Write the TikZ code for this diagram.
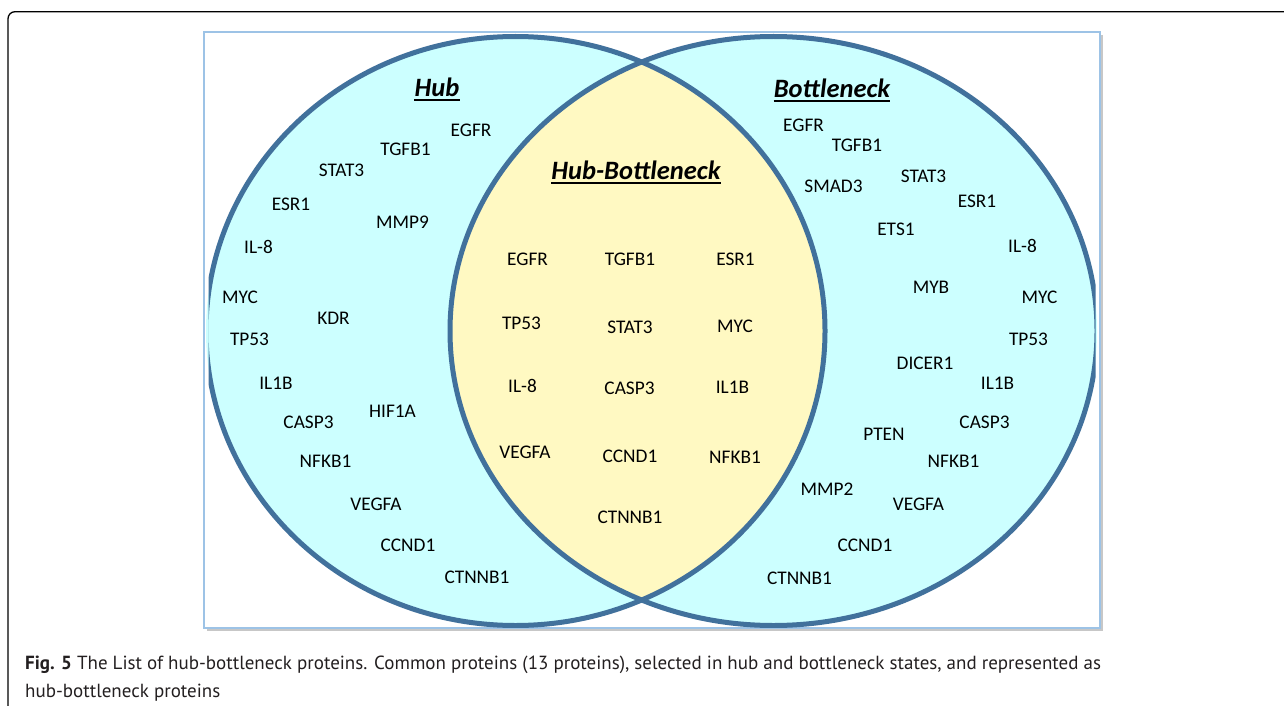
\documentclass[tikz,border=0pt]{standalone}
\usepackage{fontspec}
\setmainfont{Carlito}
\newfontfamily\capfont{PT Sans}
\definecolor{vline}{HTML}{41719C}
\definecolor{vcyan}{HTML}{CCFFFF}
\definecolor{vyellow}{HTML}{FFF9C2}
\definecolor{pblue}{HTML}{9DC3E6}
\definecolor{captxt}{HTML}{231F20}
\begin{document}
\begin{tikzpicture}[x=1pt,y=-1pt,
  lbl/.style={inner sep=0pt, font=\fontsize{19.3}{22}\selectfont, text=black},
  ttl/.style={inner sep=0pt, font=\fontsize{26.5}{30}\selectfont\bfseries\itshape, text=black},
  ulline/.style={line width=1.6pt, black},
  vset/.style={line width=5pt, draw=vline}]
\useasboundingbox (0,0) rectangle (1284,706);
% outer frame
\draw[line width=1.3pt, rounded corners=7pt] (8,706) -- (8,11.7) -- (1284,11.7);
% panel with shadow
\fill[black!22] (207,35) rectangle (1103,631);
\draw[draw=pblue, line width=2pt, fill=white] (204,32) rectangle (1100,628);
% sets
\fill[vcyan] (515.5,331) ellipse [x radius=309.5, y radius=294.5];
\fill[vcyan] (773.5,331) ellipse [x radius=323.5, y radius=294.5];
\begin{scope}
  \clip (515.5,331) ellipse [x radius=309.5, y radius=294.5];
  \fill[vyellow] (773.5,331) ellipse [x radius=323.5, y radius=294.5];
\end{scope}
\begin{scope}
  \clip (208.5,33) rectangle (1095.5,627);
  \draw[vset] (515.5,331) ellipse [x radius=309.5, y radius=294.5];
  \draw[vset] (773.5,331) ellipse [x radius=323.5, y radius=294.5];
\end{scope}
% titles
\node[ttl] (thub) at (437,87) {Hub};
\draw[ulline] ([yshift=-4pt]thub.base west) -- ([yshift=-4pt]thub.base east);
\node[ttl] (thb) at (636,170) {Hub-Bottleneck};
\draw[ulline] ([yshift=-4pt]thb.base west) -- ([yshift=-4pt]thb.base east);
\node[ttl] (tbn) at (832,88) {Bottleneck};
\draw[ulline] ([yshift=-4pt]tbn.base west) -- ([yshift=-4pt]tbn.base east);
% hub only
\node[lbl] (h1) at (471,130) {EGFR};
\node[lbl] (h2) at (405.5,149.5) {TGFB1};
\node[lbl] (h3) at (341.5,170.5) {STAT3};
\node[lbl] (h4) at (291,204) {ESR1};
\node[lbl] (h5) at (402.5,222.5) {MMP9};
\node[lbl] (h6) at (258.5,246.5) {IL-8};
\node[lbl] (h7) at (240,297.5) {MYC};
\node[lbl] (h8) at (333.5,318) {KDR};
\node[lbl] (h9) at (249.5,339.5) {TP53};
\node[lbl] (h10) at (276,383.5) {IL1B};
\node[lbl] (h11) at (392.5,411) {HIF1A};
\node[lbl] (h12) at (308.5,422) {CASP3};
\node[lbl] (h13) at (325.5,461) {NFKB1};
\node[lbl] (h14) at (376,504) {VEGFA};
\node[lbl] (h15) at (408,545) {CCND1};
\node[lbl] (h16) at (477,577.5) {CTNNB1};
% intersection
\node[lbl] (c1) at (527.5,259) {EGFR};
\node[lbl] (c2) at (630,259) {TGFB1};
\node[lbl] (c3) at (735.5,259) {ESR1};
\node[lbl] (c4) at (521.5,323) {TP53};
\node[lbl] (c5) at (630,327.5) {STAT3};
\node[lbl] (c6) at (735,326.5) {MYC};
\node[lbl] (c7) at (522.5,386) {IL-8};
\node[lbl] (c8) at (629.5,388.5) {CASP3};
\node[lbl] (c9) at (732.5,387) {IL1B};
\node[lbl] (c10) at (525,452) {VEGFA};
\node[lbl] (c11) at (630,456) {CCND1};
\node[lbl] (c12) at (735,457) {NFKB1};
\node[lbl] (c13) at (630,517) {CTNNB1};
% bottleneck only
\node[lbl] (b1) at (803.5,125.5) {EGFR};
\node[lbl] (b2) at (857,145.5) {TGFB1};
\node[lbl] (b3) at (833.5,186.5) {SMAD3};
\node[lbl] (b4) at (923.5,176) {STAT3};
\node[lbl] (b5) at (977,201) {ESR1};
\node[lbl] (b6) at (896,229.5) {ETS1};
\node[lbl] (b7) at (1022.5,246) {IL-8};
\node[lbl] (b8) at (931,287.5) {MYB};
\node[lbl] (b9) at (1039.5,297.5) {MYC};
\node[lbl] (b10) at (1028.5,339.5) {TP53};
\node[lbl] (b11) at (925,363.5) {DICER1};
\node[lbl] (b12) at (997.5,383.5) {IL1B};
\node[lbl] (b13) at (984.5,422) {CASP3};
\node[lbl] (b14) at (884,434) {PTEN};
\node[lbl] (b15) at (953.5,461) {NFKB1};
\node[lbl] (b16) at (827,489) {MMP2};
\node[lbl] (b17) at (918.5,504) {VEGFA};
\node[lbl] (b18) at (865,545) {CCND1};
\node[lbl] (b19) at (799.5,578) {CTNNB1};
% caption
\node[anchor=base west, inner sep=0pt, text=captxt, font=\capfont\fontsize{19}{22}\selectfont] (cap1) at (25,669)
  {\textbf{Fig. 5} The List of hub-bottleneck proteins. Common proteins (13 proteins), selected in hub and bottleneck states, and represented as};
\node[anchor=base west, inner sep=0pt, text=captxt, font=\capfont\fontsize{19}{22}\selectfont] (cap2) at (25,697)
  {hub-bottleneck proteins};
\end{tikzpicture}
\end{document}
